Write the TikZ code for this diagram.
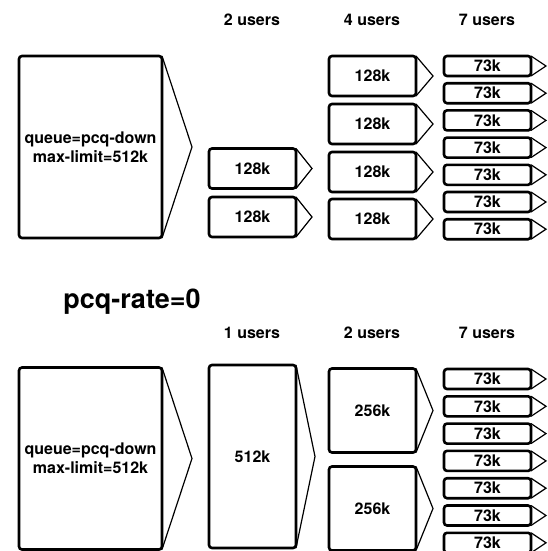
\documentclass[tikz,border=0pt]{standalone}
\usepackage{fontspec}
\setmainfont{TeX Gyre Heros}
\usetikzlibrary{positioning}
\usetikzlibrary{shadows}
\tikzstyle{bucket}=[rectangle, draw=black, fill=white, rounded corners=3pt, line width=2.6pt, inner sep=0pt, outer sep=0pt, align=center, font=\bfseries\fontsize{16}{19}\selectfont, drop shadow={shadow xshift=1.2pt, shadow yshift=-1.2pt, opacity=0.25}]
\tikzstyle{bigbucket}=[bucket, minimum width=143pt, minimum height=182pt]
\tikzstyle{tallbucket}=[bucket, minimum width=87pt, minimum height=183pt]
\tikzstyle{midbucket}=[bucket, minimum width=87pt, minimum height=84pt]
\tikzstyle{userbucket}=[bucket, minimum width=87pt, minimum height=40pt]
\tikzstyle{slimbucket}=[bucket, minimum width=87pt, minimum height=20pt]
\tikzstyle{spout}=[draw, line width=1.2pt, line join=miter]
\tikzstyle{heading}=[font=\bfseries\fontsize{16}{19}\selectfont]
\tikzstyle{title}=[font=\bfseries\fontsize{27}{32}\selectfont]

\begin{document}
\begin{tikzpicture}[x=1pt, y=-1pt]
    \useasboundingbox (0,0) rectangle (548,551);

    % Upper half: queue split among users
    \foreach \pos/\name/\label in {{(252,20)/ha/2 users}, {(372,20)/hb/4 users}, {(487,20)/hc/7 users}}
        \node[heading] (\name) at \pos {\label};

    \node[bigbucket] (qtop) at (90.5,147) {queue=pcq-down\\max-limit=512k};

    \foreach \pos/\name in {{(252.5,168.5)/ua1}, {(252.5,217)/ua2}}
        \node[userbucket] (\name) at \pos {128k};

    \foreach \pos/\name in {{(372.5,76)/ub1}, {(372.5,124)/ub2}, {(372.5,172)/ub3}, {(372.5,219)/ub4}}
        \node[userbucket] (\name) at \pos {128k};

    \foreach \i in {1,...,7}
        \node[slimbucket] (uc\i) at (487.5, {66+27.2*(\i-1)}) {73k};

    % Lower half: pcq-rate=0
    \node[title] (rate) at (132,302) {pcq-rate=0};

    \foreach \pos/\name/\label in {{(252,333)/ka/1 users}, {(372,333)/kb/2 users}, {(487,333)/kc/7 users}}
        \node[heading] (\name) at \pos {\label};

    \node[bigbucket] (qbot) at (90.5,458.5) {queue=pcq-down\\max-limit=512k};
    \node[tallbucket] (va1) at (252.5,456.5) {512k};

    \foreach \pos/\name in {{(372.5,410.5)/vb1}, {(372.5,508.5)/vb2}}
        \node[midbucket] (\name) at \pos {256k};

    \foreach \i in {1,...,7}
        \node[slimbucket] (vc\i) at (487.5, {379+27.3*(\i-1)}) {73k};

    % Spouts on the right of every bucket
    \foreach \name/\len in {qtop/30, ua1/16, ua2/16, ub1/17, ub2/17, ub3/17, ub4/17, uc1/15, uc2/15, uc3/15, uc4/15, uc5/15, uc6/15, uc7/15, qbot/30, va1/19, vb1/17, vb2/17, vc1/15, vc2/15, vc3/15, vc4/15, vc5/15, vc6/15, vc7/15}
        \path[spout] (\name.north east) -- ([xshift=\len pt]\name.east) -- (\name.south east);
\end{tikzpicture}
\end{document}
